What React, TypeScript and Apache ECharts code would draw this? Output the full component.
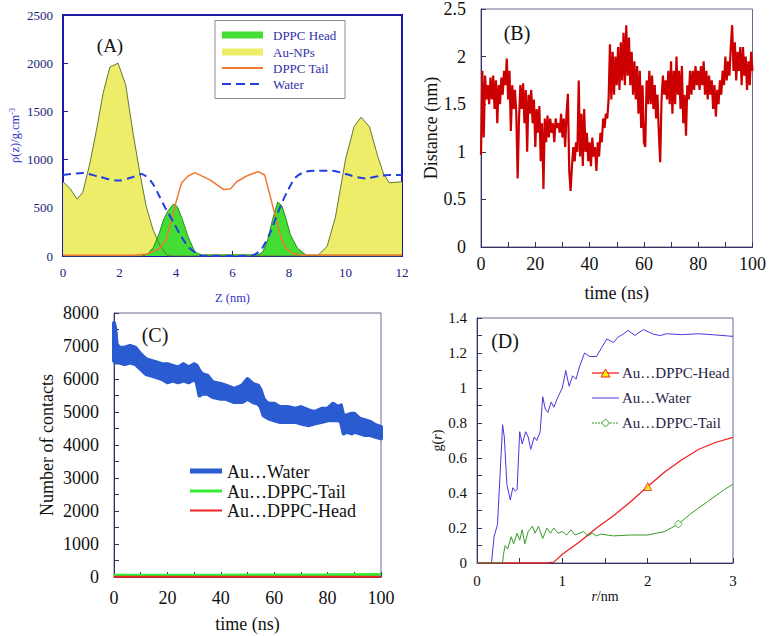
import React, { useEffect, useRef } from "react";
import * as echarts from "echarts";

const SERIF = "'Liberation Serif', 'Times New Roman', serif";

// ---------- Panel A: density profiles (z nm, rho) ----------
const auNP: number[][] = [
  [0, 770], [0.25, 700], [0.5, 590], [0.7, 660], [0.95, 960], [1.2, 1330], [1.42, 1690], [1.66, 1960],
  [1.95, 2000], [2.22, 1775], [2.48, 1275], [2.72, 860], [2.95, 510], [3.19, 270], [3.42, 115], [3.66, 15],
  [3.8, 0], [9.0, 0], [9.35, 100], [9.64, 400], [10.0, 1000], [10.3, 1340], [10.55, 1440], [10.85, 1340],
  [11.14, 1035], [11.35, 850], [11.55, 760], [12, 770],
];
const dppcHead: number[][] = [
  [0, 0], [2.8, 0], [3.0, 20], [3.2, 90], [3.4, 230], [3.55, 370], [3.72, 470], [3.92, 540], [4.05, 510],
  [4.2, 400], [4.43, 200], [4.67, 40], [4.9, 12], [6.9, 12], [7.07, 40], [7.25, 170], [7.42, 380], [7.6, 560],
  [7.75, 520], [7.9, 380], [8.05, 220], [8.3, 80], [8.6, 10], [9.0, 0], [12, 0],
];
const dppcTail: number[][] = [
  [0, 8], [2.5, 8], [3.0, 20], [3.42, 80], [3.66, 170], [3.84, 375], [4.02, 580], [4.2, 760], [4.43, 830],
  [4.67, 865], [5.2, 790], [5.68, 690], [5.92, 695], [6.15, 770], [6.5, 830], [6.9, 875], [7.14, 840],
  [7.37, 580], [7.55, 375], [7.72, 185], [7.9, 80], [8.14, 25], [8.4, 10], [12, 10],
];
const waterDensity: number[][] = [
  [0, 840], [0.71, 860], [1.3, 820], [1.95, 782], [2.48, 820], [2.77, 850], [3.13, 770], [3.42, 615],
  [3.66, 477], [3.9, 356], [4.19, 200], [4.49, 80], [4.85, 10], [5.07, 0], [6.6, 0], [6.84, 25], [7.07, 90],
  [7.37, 265], [7.66, 490], [7.96, 680], [8.25, 820], [8.6, 875], [9.06, 885], [9.54, 885], [10.0, 850],
  [10.7, 805], [11.2, 830], [11.56, 840], [12, 840],
];

// ---------- Panel B: distance vs time (step 0.5 ns) ----------
const distanceStep = 0.5;
const distanceValues: number[] = [
  0.97, 1.85, 1.15, 1.8, 1.55, 1.7, 1.5, 1.78, 1.55, 1.8,
  1.45, 1.75, 1.3, 1.7, 1.5, 1.78, 1.6, 1.85, 1.7, 1.98,
  1.55, 1.85, 1.22, 1.7, 1.45, 1.65, 1.4, 0.72, 1.35, 1.7,
  1.45, 1.72, 1.3, 1.65, 1.0, 1.6, 1.4, 1.65, 1.3, 1.55,
  1.05, 1.45, 1.2, 1.48, 0.9, 1.3, 0.61, 1.35, 1.1, 1.38,
  1.15, 1.35, 1.2, 1.3, 1.1, 1.35, 1.25, 1.3, 1.2, 1.4,
  1.15, 1.35, 1.05, 1.4, 1.61, 0.8, 0.59, 0.85, 1.05, 0.9,
  1.1, 1.0, 1.75, 0.95, 1.4, 0.85, 1.45, 1.0, 1.2, 0.9,
  1.1, 0.85, 1.15, 0.95, 1.05, 0.8, 1.1, 0.95, 1.2, 1.1,
  1.35, 1.25, 1.4, 1.35, 1.55, 2.13, 1.55, 2.05, 1.6, 2.0,
  1.7, 2.1, 1.65, 2.15, 1.75, 2.25, 1.7, 2.33, 1.8, 2.2,
  1.7, 2.05, 1.6, 1.95, 1.55, 1.9, 1.4, 1.85, 1.25, 1.7,
  1.1, 1.05, 1.75, 1.5, 1.85, 1.5, 1.8, 1.45, 1.7, 1.35,
  1.6, 1.2, 0.89, 1.55, 1.8, 1.6, 1.75, 1.55, 1.85, 1.5,
  1.95, 1.4, 1.85, 1.5, 2.0, 1.6, 1.85, 1.45, 1.9, 1.3,
  1.6, 1.17, 1.7, 1.55, 1.85, 1.6, 1.85, 1.65, 1.9, 1.7,
  1.85, 1.65, 1.9, 1.7, 1.95, 1.6, 1.85, 1.55, 1.8, 1.6,
  1.75, 1.45, 1.7, 1.37, 1.65, 1.5, 1.75, 1.6, 1.85, 1.7,
  2.0, 1.75, 1.95, 1.8, 2.1, 2.33, 1.85, 2.15, 1.75, 2.05,
  1.85, 2.1, 1.7, 2.1, 1.8, 2.0, 1.65, 1.95, 1.7, 2.05,
  1.85,
];

// ---------- Panel C: number of contacts ----------
const contactTimes = [0, 0.5, 1, 2, 4, 6, 8, 10, 12, 14, 16, 18, 20, 22, 24, 26, 28, 30, 31, 32, 33, 35, 37, 40, 42,
  45, 48, 50, 52, 54, 55, 56, 57, 58, 60, 62, 65, 68, 70, 73, 75, 78, 80, 82, 84, 85, 86, 87, 89, 90, 92, 94, 96, 98, 100];
const waterUpper = [7700, 7500, 7050, 6950, 6950, 7000, 6950, 6750, 6600, 6550, 6500, 6450, 6450, 6400, 6350, 6450, 6350,
  6450, 6400, 6250, 6150, 6100, 5900, 5850, 5800, 5700, 5800, 6000, 5850, 5800, 5650, 5400, 5300, 5250, 5250, 5150, 5150,
  5100, 5150, 5050, 5000, 5100, 5100, 5250, 5150, 5200, 4850, 4900, 4950, 4950, 4800, 4750, 4700, 4600, 4550];
const waterLower = [6550, 6500, 6500, 6500, 6450, 6500, 6450, 6300, 6150, 6100, 6050, 6000, 5900, 5950, 5900, 5950, 5900,
  6000, 5900, 5500, 5550, 5550, 5450, 5400, 5400, 5300, 5300, 5400, 5300, 5250, 5150, 4900, 4850, 4800, 4750, 4700, 4700,
  4700, 4650, 4600, 4650, 4700, 4750, 4750, 4750, 4700, 4350, 4400, 4350, 4400, 4350, 4300, 4300, 4250, 4200];
const tailContacts: number[][] = [[0, 50], [20, 55], [40, 55], [60, 60], [80, 65], [100, 75]];
const headContacts: number[][] = [[0, 5], [50, 5], [100, 6]];

// ---------- Panel D: g(r) ----------
const rdfWater: number[][] = [
  [0, 0], [0.17, 0], [0.2, 0.15], [0.24, 0.22], [0.27, 0.5], [0.3, 0.79], [0.32, 0.72], [0.35, 0.45],
  [0.39, 0.36], [0.42, 0.43], [0.45, 0.41], [0.47, 0.42], [0.5, 0.75], [0.53, 0.68], [0.57, 0.75],
  [0.6, 0.72], [0.63, 0.65], [0.67, 0.72], [0.7, 0.7], [0.74, 0.75], [0.77, 0.95], [0.8, 0.88], [0.83, 0.86],
  [0.87, 0.92], [0.9, 0.89], [0.95, 0.95], [1.0, 1.0], [1.04, 1.1], [1.08, 1.01], [1.12, 1.07], [1.16, 1.05],
  [1.2, 1.12], [1.26, 1.2], [1.32, 1.18], [1.4, 1.18], [1.46, 1.23], [1.52, 1.28], [1.56, 1.27], [1.6, 1.26],
  [1.65, 1.29], [1.72, 1.31], [1.77, 1.33], [1.85, 1.3], [1.95, 1.334], [2.07, 1.307], [2.15, 1.3],
  [2.22, 1.31], [2.4, 1.305], [2.6, 1.31], [2.8, 1.303], [3.0, 1.295],
];
const rdfHead: number[][] = [
  [0, 0], [0.82, 0], [0.9, 0.005], [1.0, 0.05], [1.2, 0.12], [1.4, 0.2], [1.6, 0.27], [1.8, 0.35],
  [2.0, 0.437], [2.2, 0.52], [2.4, 0.59], [2.6, 0.65], [2.8, 0.69], [3.0, 0.718],
];
const rdfTail: number[][] = [
  [0, 0], [0.3, 0], [0.31, 0.05], [0.33, 0.1], [0.36, 0.08], [0.4, 0.15], [0.43, 0.11], [0.47, 0.17],
  [0.5, 0.13], [0.53, 0.19], [0.56, 0.11], [0.6, 0.18], [0.65, 0.21], [0.68, 0.17], [0.72, 0.21],
  [0.77, 0.14], [0.82, 0.2], [0.86, 0.17], [0.9, 0.2], [0.95, 0.17], [1.0, 0.18], [1.05, 0.16],
  [1.1, 0.19], [1.15, 0.16], [1.2, 0.17], [1.25, 0.18], [1.3, 0.155], [1.35, 0.17], [1.4, 0.155],
  [1.45, 0.165], [1.6, 0.155], [1.8, 0.16], [2.0, 0.16], [2.1, 0.17], [2.2, 0.18], [2.36, 0.222],
  [2.5, 0.28], [2.7, 0.35], [2.9, 0.42], [3.0, 0.45],
];
const headMarker: number[][] = [[2.0, 0.437]];
const tailMarker: number[][] = [[2.36, 0.222]];

const BOX = "#6b6b8f";
const AX = "#333366";
const WATER_BLUE = "#2a5bd0";

function valueAxis(o: any) {
  return {
    type: "value",
    gridIndex: o.grid,
    min: o.min,
    max: o.max,
    interval: o.interval,
    name: o.name,
    nameLocation: "middle",
    nameGap: o.nameGap,
    nameTextStyle: o.nameTextStyle,
    axisLine: { show: true, lineStyle: { color: o.lineColor, width: o.lineWidth || 1 } },
    axisTick: { show: true, inside: true, length: 5, lineStyle: { color: o.lineColor } },
    minorTick: o.minor ? { show: true, splitNumber: o.minor, length: 5, lineStyle: { color: o.lineColor } } : { show: false },
    splitLine: { show: false },
    axisLabel: {
      color: o.labelColor, fontSize: o.fontSize, fontFamily: SERIF, margin: o.margin,
      showMaxLabel: true, showMinLabel: true,
      formatter: (v: number) => String(v),
    },
  };
}

const option: any = {
  animation: false,
  backgroundColor: "#ffffff",
  textStyle: { fontFamily: SERIF },
  grid: [
    { left: 63, top: 15, width: 339, height: 241, show: true, borderColor: "#1a1aa6", borderWidth: 2 },
    { left: 481, top: 8, width: 273, height: 239, show: true, borderColor: BOX, borderWidth: 1 },
    { left: 114, top: 313, width: 267, height: 264, show: true, borderColor: BOX, borderWidth: 1 },
    { left: 477, top: 318, width: 256, height: 245, show: true, borderColor: BOX, borderWidth: 1 },
  ],
  xAxis: [
    valueAxis({ grid: 0, min: 0, max: 12, interval: 2, name: "Z (nm)", nameGap: 35,
      nameTextStyle: { color: "#3333cc", fontSize: 12.5, fontFamily: SERIF },
      lineColor: "#1a1aa6", lineWidth: 2, labelColor: "#20207a", fontSize: 13, margin: 10 }),
    valueAxis({ grid: 1, min: 0, max: 100, interval: 20, minor: 2, name: "time (ns)", nameGap: 37,
      nameTextStyle: { color: "#111", fontSize: 18, fontFamily: SERIF },
      lineColor: AX, labelColor: "#111", fontSize: 18, margin: 8 }),
    valueAxis({ grid: 2, min: 0, max: 100, interval: 20, minor: 2, name: "time (ns)", nameGap: 38,
      nameTextStyle: { color: "#111", fontSize: 18, fontFamily: SERIF },
      lineColor: AX, labelColor: "#111", fontSize: 18, margin: 12 }),
    valueAxis({ grid: 3, min: 0, max: 3, interval: 1, minor: 2, name: "{i|r}/nm", nameGap: 26,
      nameTextStyle: { color: "#111", fontSize: 14, fontFamily: SERIF,
        rich: { i: { fontStyle: "italic", fontSize: 14, fontFamily: SERIF, color: "#111" } } },
      lineColor: AX, labelColor: "#111", fontSize: 15, margin: 10 }),
  ],
  yAxis: [
    valueAxis({ grid: 0, min: 0, max: 2500, interval: 500, name: "ρ(z)/g.cm{sup|-3}", nameGap: 42,
      nameTextStyle: { color: "#3333cc", fontSize: 12.5, fontFamily: SERIF,
        rich: { sup: { fontSize: 8, verticalAlign: "top", color: "#3333cc", fontFamily: SERIF } } },
      lineColor: "#1a1aa6", lineWidth: 2, labelColor: "#20207a", fontSize: 13, margin: 10 }),
    valueAxis({ grid: 1, min: 0, max: 2.5, interval: 0.5, name: "Distance (nm)", nameGap: 39,
      nameTextStyle: { color: "#111", fontSize: 18, fontFamily: SERIF },
      lineColor: AX, labelColor: "#111", fontSize: 18, margin: 15 }),
    valueAxis({ grid: 2, min: 0, max: 8000, interval: 1000, minor: 2, name: "Number of contacts", nameGap: 58,
      nameTextStyle: { color: "#111", fontSize: 18, fontFamily: SERIF },
      lineColor: AX, labelColor: "#111", fontSize: 18, margin: 15 }),
    valueAxis({ grid: 3, min: 0, max: 1.4, interval: 0.2, minor: 2, name: "g({i|r})", nameGap: 32,
      nameTextStyle: { color: "#111", fontSize: 14, fontFamily: SERIF,
        rich: { i: { fontStyle: "italic", fontSize: 14, fontFamily: SERIF, color: "#111" } } },
      lineColor: AX, labelColor: "#111", fontSize: 15, margin: 10 }),
  ],
  series: [
    // Panel A
    { name: "Au-NPs", type: "line", xAxisIndex: 0, yAxisIndex: 0, data: auNP, symbol: "none",
      lineStyle: { color: "#667733", width: 1 }, areaStyle: { color: "#eded6a", opacity: 1 } },
    { name: "DPPC Head", type: "line", xAxisIndex: 0, yAxisIndex: 0, data: dppcHead, symbol: "none",
      lineStyle: { color: "#2f8a22", width: 1 }, areaStyle: { color: "#44dd33", opacity: 1 } },
    { name: "DPPC Tail", type: "line", xAxisIndex: 0, yAxisIndex: 0, data: dppcTail, symbol: "none",
      lineStyle: { color: "#f07830", width: 1.5 } },
    { name: "Water", type: "line", xAxisIndex: 0, yAxisIndex: 0, data: waterDensity, symbol: "none", smooth: 0.3,
      lineStyle: { color: "#2040e0", width: 2, type: [8, 5] } },
    // Panel B
    { name: "Distance", type: "line", xAxisIndex: 1, yAxisIndex: 1, symbol: "none",
      data: distanceValues.map((v, i) => [i * distanceStep, v]),
      lineStyle: { color: "#cc0000", width: 2.2 } },
    // Panel C: water contacts as a band between lower and upper envelopes
    { name: "Au…Water", type: "custom", xAxisIndex: 2, yAxisIndex: 2,
      data: contactTimes.map((t, i) => [t, waterLower[i], waterUpper[i]]),
      encode: { x: 0, y: [1, 2] },
      renderItem: (params: any, api: any) => {
        if (params.dataIndex !== 0) return null;
        const top = contactTimes.map((t, i) => api.coord([t, waterUpper[i]]));
        const bottom = contactTimes.map((t, i) => api.coord([t, waterLower[i]])).reverse();
        return {
          type: "polygon",
          shape: { points: top.concat(bottom) },
          style: { fill: WATER_BLUE, stroke: WATER_BLUE, lineWidth: 4, lineJoin: "round" },
        };
      },
    },
    { name: "Au…DPPC-Tail", type: "line", xAxisIndex: 2, yAxisIndex: 2, symbol: "none", data: tailContacts,
      lineStyle: { color: "#33ee33", width: 3 } },
    { name: "Au…DPPC-Head", type: "line", xAxisIndex: 2, yAxisIndex: 2, symbol: "none", data: headContacts,
      lineStyle: { color: "#ee2222", width: 2 } },
    // Panel D
    { name: "gWater", type: "line", xAxisIndex: 3, yAxisIndex: 3, symbol: "none", data: rdfWater,
      lineStyle: { color: "#5533dd", width: 1 } },
    { name: "gHead", type: "line", xAxisIndex: 3, yAxisIndex: 3, symbol: "none", data: rdfHead,
      lineStyle: { color: "#ee2222", width: 1.3 } },
    { name: "gTail", type: "line", xAxisIndex: 3, yAxisIndex: 3, symbol: "none", data: rdfTail,
      lineStyle: { color: "#3a9a2a", width: 1 } },
    { name: "gHeadMark", type: "scatter", xAxisIndex: 3, yAxisIndex: 3, data: headMarker, symbol: "triangle",
      symbolSize: 8, itemStyle: { color: "#ffee00", borderColor: "#ee2222", borderWidth: 1 }, z: 5 },
    { name: "gTailMark", type: "scatter", xAxisIndex: 3, yAxisIndex: 3, data: tailMarker, symbol: "diamond",
      symbolSize: 8, itemStyle: { color: "#ffffff", borderColor: "#3a9a2a", borderWidth: 1 }, z: 5 },
  ],
  graphic: [
    // panel letters
    { type: "text", x: 110, y: 45, z: 100, style: { text: "(A)", fontSize: 19, fontFamily: SERIF, fill: "#111", align: "center", verticalAlign: "middle" } },
    { type: "text", x: 517, y: 33, z: 100, style: { text: "(B)", fontSize: 20, fontFamily: SERIF, fill: "#111", align: "center", verticalAlign: "middle" } },
    { type: "text", x: 155, y: 335, z: 100, style: { text: "(C)", fontSize: 20, fontFamily: SERIF, fill: "#111", align: "center", verticalAlign: "middle" } },
    { type: "text", x: 505, y: 341, z: 100, style: { text: "(D)", fontSize: 20, fontFamily: SERIF, fill: "#111", align: "center", verticalAlign: "middle" } },
    // legend A
    { type: "rect", z: 100, shape: { x: 215, y: 20.5, width: 130, height: 78 }, style: { fill: "#ffffff", stroke: "#8a8a8a", lineWidth: 1 } },
    { type: "rect", z: 101, shape: { x: 222, y: 31.5, width: 41, height: 7 }, style: { fill: "#44dd33" } },
    { type: "rect", z: 101, shape: { x: 222, y: 48.5, width: 41, height: 7 }, style: { fill: "#eded6a" } },
    { type: "line", z: 101, shape: { x1: 222, y1: 68, x2: 263, y2: 68 }, style: { stroke: "#f07830", lineWidth: 2 } },
    { type: "line", z: 101, shape: { x1: 222, y1: 84, x2: 263, y2: 84 }, style: { stroke: "#2040e0", lineWidth: 2, lineDash: [9, 5] } },
    { type: "text", z: 101, x: 273, y: 35, style: { text: "DPPC Head", fontSize: 13, fontFamily: SERIF, fill: "#3030a8", verticalAlign: "middle" } },
    { type: "text", z: 101, x: 273, y: 52, style: { text: "Au-NPs", fontSize: 13, fontFamily: SERIF, fill: "#3030a8", verticalAlign: "middle" } },
    { type: "text", z: 101, x: 273, y: 68, style: { text: "DPPC Tail", fontSize: 13, fontFamily: SERIF, fill: "#3030a8", verticalAlign: "middle" } },
    { type: "text", z: 101, x: 273, y: 84, style: { text: "Water", fontSize: 13, fontFamily: SERIF, fill: "#3030a8", verticalAlign: "middle" } },
    // legend C
    { type: "line", z: 101, shape: { x1: 190, y1: 471, x2: 222, y2: 471 }, style: { stroke: WATER_BLUE, lineWidth: 5 } },
    { type: "line", z: 101, shape: { x1: 190, y1: 491, x2: 222, y2: 491 }, style: { stroke: "#33ee33", lineWidth: 3 } },
    { type: "line", z: 101, shape: { x1: 190, y1: 510.5, x2: 222, y2: 510.5 }, style: { stroke: "#ee2222", lineWidth: 2 } },
    { type: "text", z: 101, x: 227, y: 472, style: { text: "Au…Water", fontSize: 18, fontFamily: SERIF, fill: "#111", verticalAlign: "middle" } },
    { type: "text", z: 101, x: 227, y: 491.5, style: { text: "Au…DPPC-Tail", fontSize: 18, fontFamily: SERIF, fill: "#111", verticalAlign: "middle" } },
    { type: "text", z: 101, x: 227, y: 511, style: { text: "Au…DPPC-Head", fontSize: 18, fontFamily: SERIF, fill: "#111", verticalAlign: "middle" } },
    // legend D
    { type: "line", z: 101, shape: { x1: 592, y1: 373, x2: 619, y2: 373 }, style: { stroke: "#ee2222", lineWidth: 1.3 } },
    { type: "polygon", z: 102, shape: { points: [[605.5, 369], [601, 377], [610, 377]] }, style: { fill: "#ffee00", stroke: "#ee2222", lineWidth: 1 } },
    { type: "line", z: 101, shape: { x1: 592, y1: 398, x2: 619, y2: 398 }, style: { stroke: "#5533dd", lineWidth: 1 } },
    { type: "line", z: 101, shape: { x1: 592, y1: 423, x2: 619, y2: 423 }, style: { stroke: "#3a9a2a", lineWidth: 1, lineDash: [2, 1] } },
    { type: "polygon", z: 102, shape: { points: [[605.5, 419], [609.5, 423], [605.5, 427], [601.5, 423]] }, style: { fill: "#ffffff", stroke: "#3a9a2a", lineWidth: 1 } },
    { type: "text", z: 101, x: 622, y: 373, style: { text: "Au…DPPC-Head", fontSize: 15, fontFamily: SERIF, fill: "#1f1f45", verticalAlign: "middle" } },
    { type: "text", z: 101, x: 622, y: 398, style: { text: "Au…Water", fontSize: 15, fontFamily: SERIF, fill: "#1f1f45", verticalAlign: "middle" } },
    { type: "text", z: 101, x: 622, y: 423, style: { text: "Au…DPPC-Tail", fontSize: 15, fontFamily: SERIF, fill: "#1f1f45", verticalAlign: "middle" } },
  ],
};

export default function App() {
  const ref = useRef<HTMLDivElement>(null);
  useEffect(() => {
    if (!ref.current) return;
    const chart = echarts.init(ref.current, null, { renderer: "svg" });
    chart.setOption(option);
    return () => chart.dispose();
  }, []);
  return (
    <div
      ref={ref}
      style={{ position: "absolute", left: 0, top: 0, width: 769, height: 636, background: "#ffffff" }}
    />
  );
}
